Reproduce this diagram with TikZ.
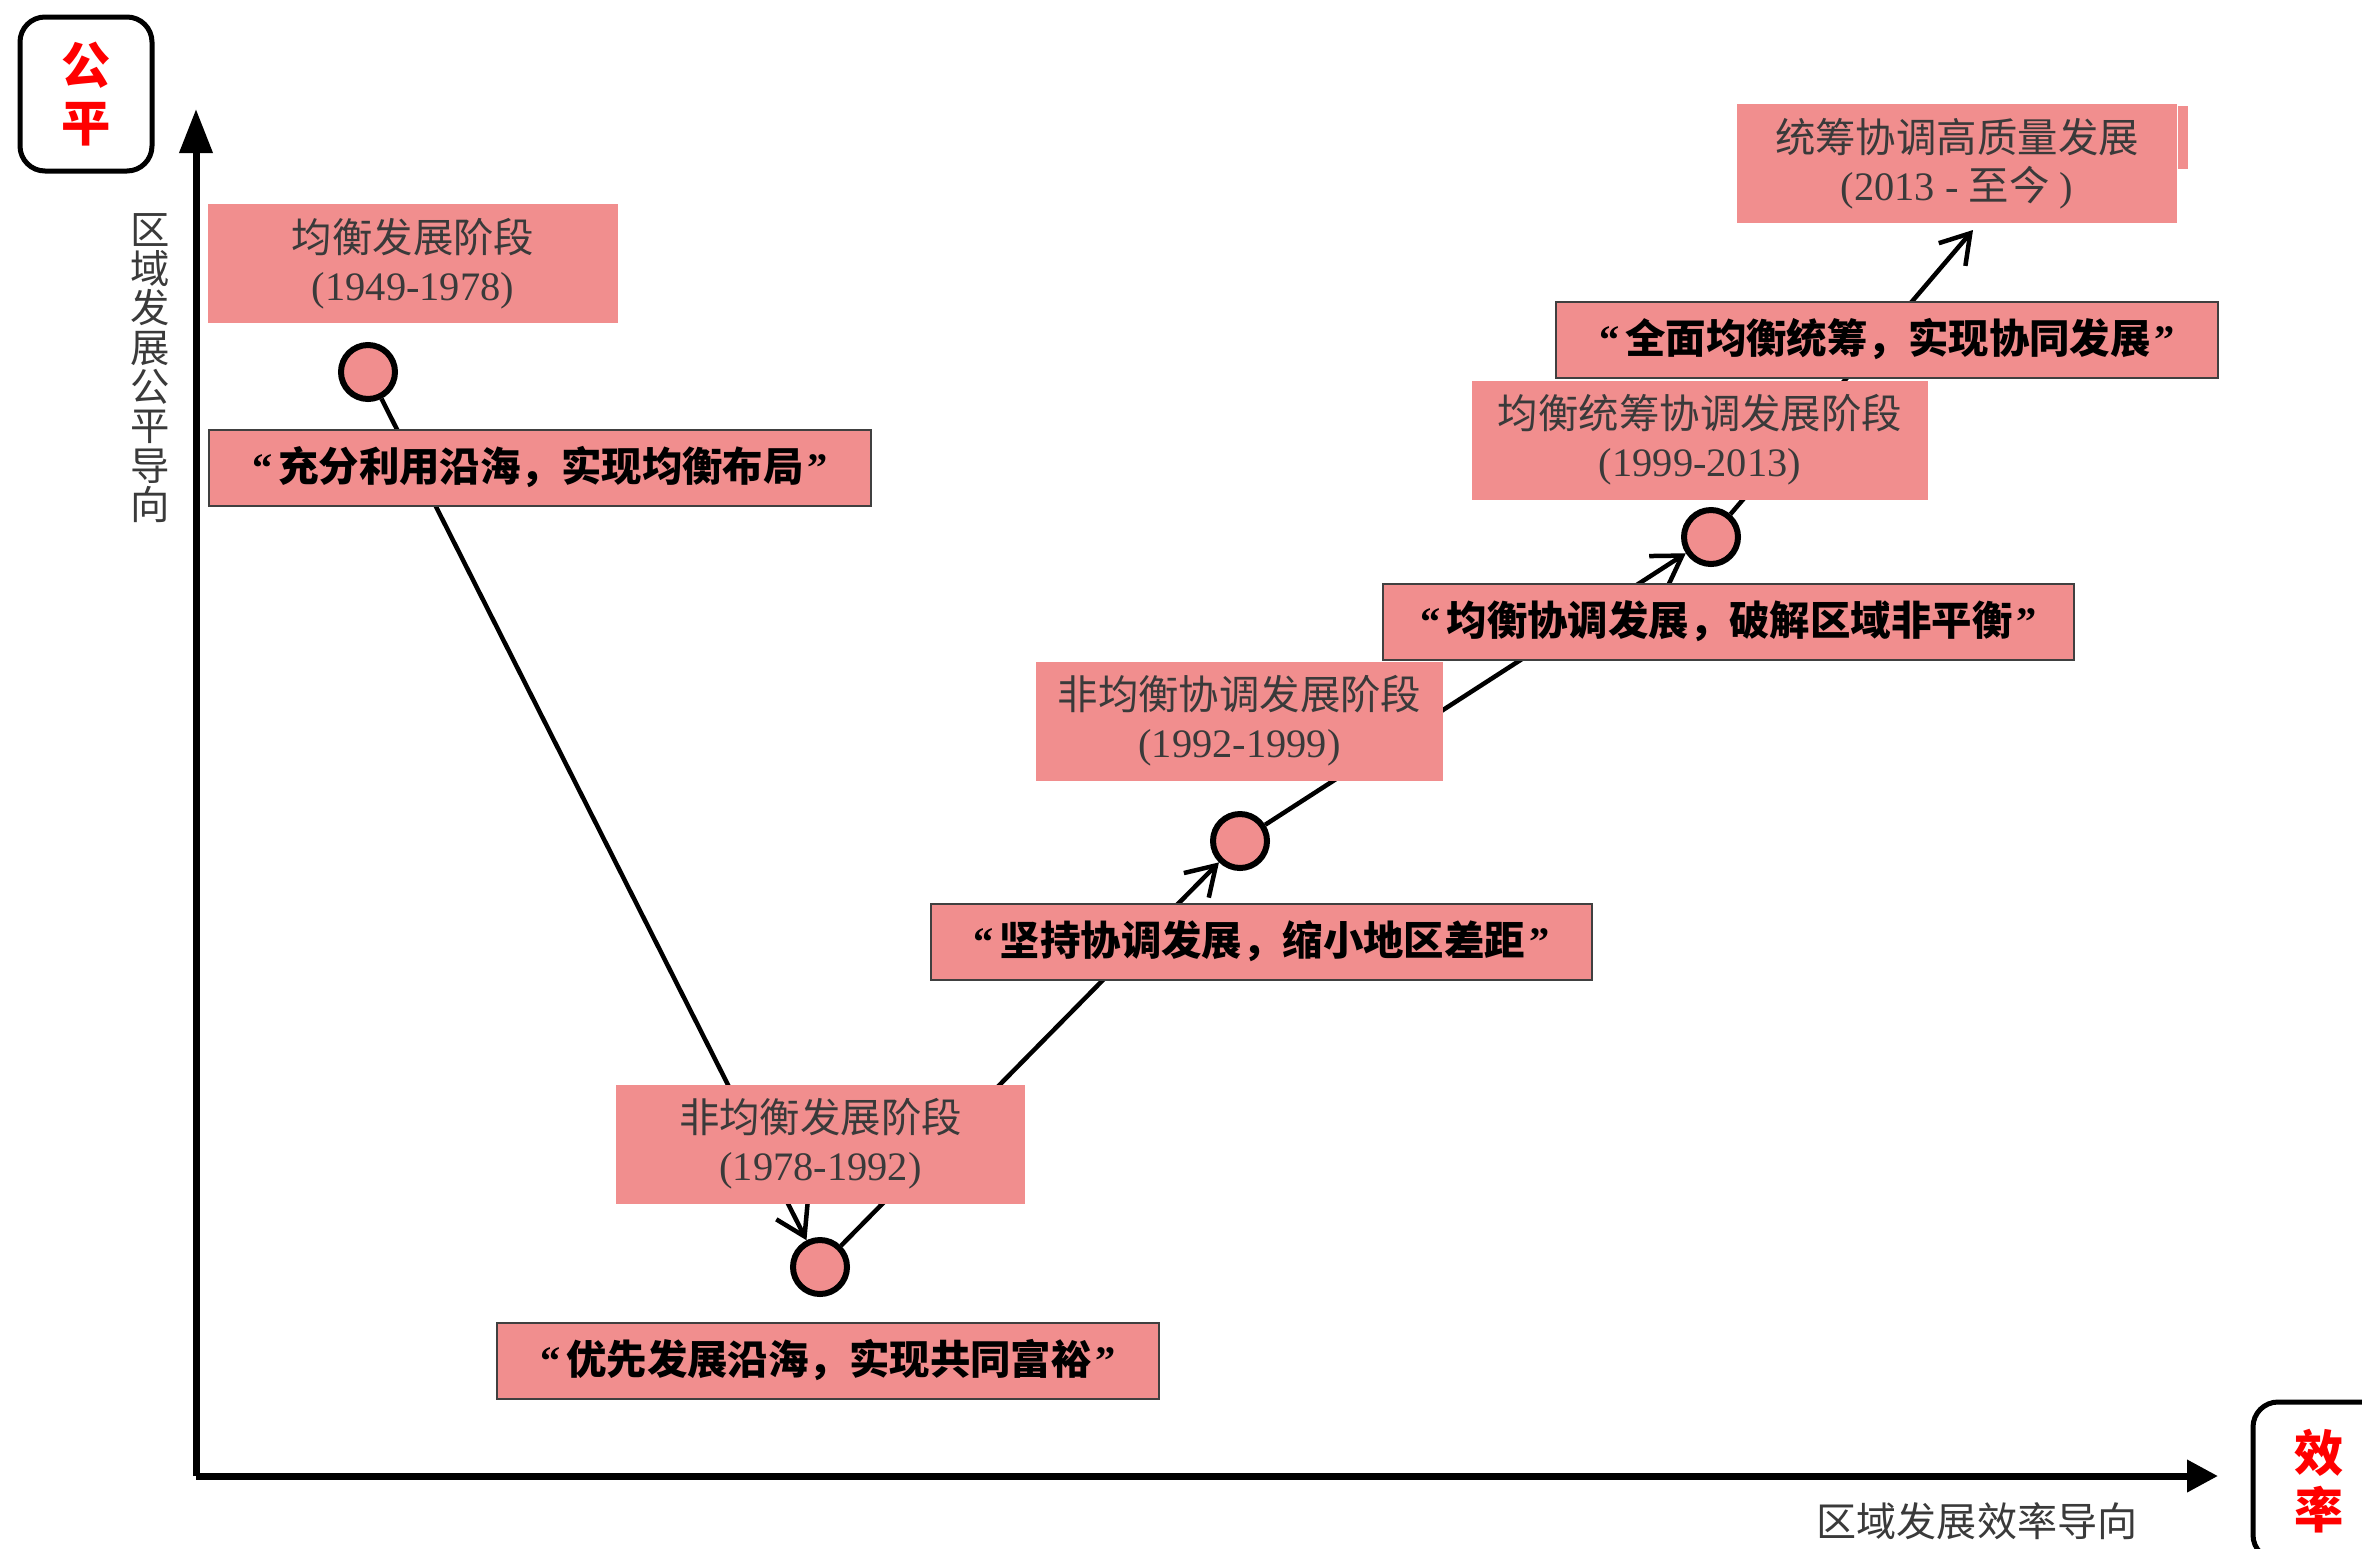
\documentclass[tikz,border=0pt]{standalone}
\usepackage{fontspec}
\setmainfont{Liberation Serif}
\newfontfamily\cjk{Noto Sans CJK SC}
\usetikzlibrary{arrows.meta}
\definecolor{stagepink}{RGB}{241,142,142}
\definecolor{textgray}{RGB}{58,58,58}

\begin{document}
\begin{tikzpicture}
  [x=0.1mm, y=-0.1mm,
   stage/.style={fill=stagepink, text=textgray, align=center, inner sep=0pt,
     minimum height=11.9mm, font=\fontsize{11.5}{13.6}\selectfont},
   motto/.style={fill=stagepink, draw=black!75, line width=0.2mm, inner sep=0pt,
     minimum height=7.6mm, font=\fontsize{11.5}{14}\selectfont\bfseries},
   dot/.style={circle, draw, fill=stagepink, line width=0.6mm,
     minimum size=5.4mm, inner sep=0pt},
   link/.style={line width=0.45mm, -{Straight Barb[length=2.8mm,width=3.5mm]}},
   axis/.style={line width=0.7mm},
   corner/.style={draw, rounded corners=2.5mm, line width=0.5mm, text=red,
     align=center, inner sep=0pt, minimum width=13.2mm,
     font=\cjk\fontsize{14}{16.3}\selectfont\bfseries}]
\useasboundingbox (0,0) rectangle (2362,1548);
\clip (0,0) rectangle (2362,1548);

% axes
\coordinate (origin) at (196,1476);
\coordinate (ytip) at (196,109);
\coordinate (xtip) at (2218,1476);
\draw[axis, -{Triangle[length=4.4mm,width=3.2mm]}] (origin) -- (ytip);
\draw[axis, -{Triangle[length=3.1mm,width=3.1mm]}] (origin) -- (xtip);
\node[text=textgray, align=center, font=\cjk\fontsize{11.2}{11.2}\selectfont]
  (ylab) at (150,368) {区\\域\\发\\展\\公\\平\\导\\向};
\node[text=textgray, font=\cjk\fontsize{11.4}{13}\selectfont]
  (xlab) at (1977,1521) {区域发展效率导向};
\node[corner, minimum height=15.4mm] (fair) at (86,94) {公\\平};
\node[corner, minimum height=15.8mm] (eff) at (2319,1481) {效\\率};

% turning points
\node[dot] (c1) at (368,372) {};
\node[dot] (c2) at (820,1267) {};
\node[dot] (c3) at (1240,841) {};
\node[dot] (c4) at (1711,537) {};
\coordinate (top) at (1973,230);
\draw[link] (c1) -- (c2);
\draw[link] (c2) -- (c3);
\draw[link] (c3) -- (c4);
\draw[link] (c4) -- (top);

% stages
\node[stage, minimum width=41mm] (p1) at (413,263.5)
  {{\cjk 均衡发展阶段}\\(1949-1978)};
\node[stage, minimum width=40.9mm] (p2) at (820.5,1144)
  {{\cjk 非均衡发展阶段}\\(1978-1992)};
\node[stage, minimum width=40.7mm] (p3) at (1239.5,721)
  {{\cjk 非均衡协调发展阶段}\\(1992-1999)};
\node[stage, minimum width=45.6mm] (p4) at (1700,440)
  {{\cjk 均衡统筹协调发展阶段}\\(1999-2013)};
\node[stage, minimum width=44mm] (p5) at (1957,163.5)
  {{\cjk 统筹协调高质量发展}\\(2013 - {\cjk 至今} )};
\fill[stagepink] ([yshift=-0.3mm]p5.north east) rectangle ++(10,63);

% slogans
\node[motto, minimum width=66.2mm] (m1) at (540,467.5)
  {“\hspace{0.15em}{\cjk 充分利用沿海，实现均衡布局}\hspace{0.1em}”};
\node[motto, minimum width=66.2mm] (m2) at (828,1360.5)
  {“\hspace{0.15em}{\cjk 优先发展沿海，实现共同富裕}\hspace{0.1em}”};
\node[motto, minimum width=66.1mm] (m3) at (1261.5,941.5)
  {“\hspace{0.15em}{\cjk 坚持协调发展，缩小地区差距}\hspace{0.1em}”};
\node[motto, minimum width=69.1mm] (m4) at (1728.5,621.5)
  {“\hspace{0.15em}{\cjk 均衡协调发展，破解区域非平衡}\hspace{0.1em}”};
\node[motto, minimum width=66.2mm] (m5) at (1887,339.5)
  {“\hspace{0.15em}{\cjk 全面均衡统筹，实现协同发展}\hspace{0.1em}”};
\end{tikzpicture}
\end{document}
